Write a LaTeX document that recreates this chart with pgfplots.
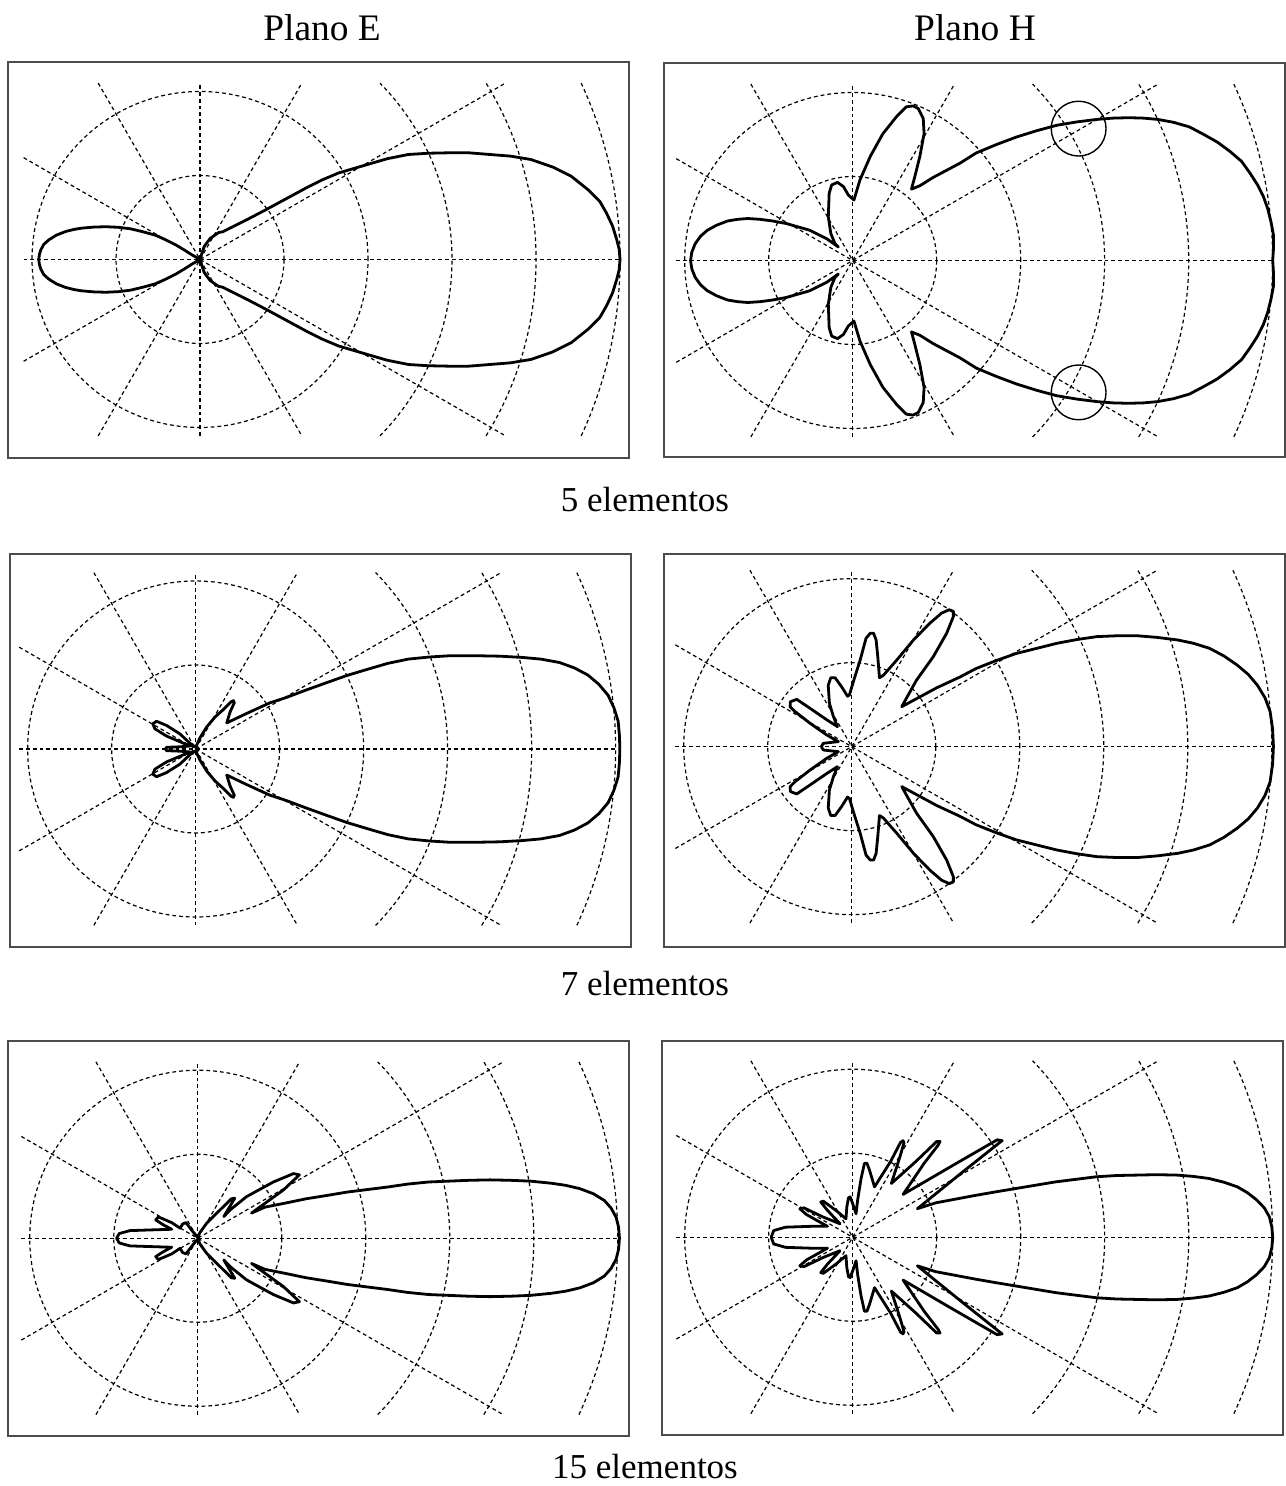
\documentclass[border=0pt]{standalone}
\usepackage{fontspec}
\setmainfont{Liberation Serif}
\usepackage{pgfplots}
\usepackage{pgfplotstable}
\pgfplotsset{compat=1.18}

% upper halves of the patterns (x y, in ring units); lower half is mirrored
\pgfplotstableread{
x y
5.00 0.00
4.99 0.12
4.96 0.24
4.91 0.40
4.84 0.55
4.76 0.69
4.62 0.83
4.42 0.99
4.20 1.10
3.94 1.19
3.70 1.23
3.45 1.25
3.20 1.27
2.96 1.27
2.72 1.265
2.48 1.25
2.23 1.20
1.99 1.13
1.82 1.08
1.65 1.03
1.46 0.95
1.26 0.85
1.02 0.72
0.78 0.59
0.56 0.475
0.34 0.365
0.27 0.33
0.22 0.32
0.12 0.25
0.05 0.155
0.01 0.036
0.00 0.00
-0.097 0.056
-0.19 0.115
-0.29 0.175
-0.41 0.235
-0.534 0.29
-0.68 0.33
-0.826 0.365
-0.97 0.383
-1.12 0.39
-1.26 0.386
-1.41 0.373
-1.50 0.358
-1.60 0.333
-1.71 0.29
-1.80 0.234
-1.86 0.18
-1.895 0.115
-1.912 0.06
-1.92 0.00
}\patA

\pgfplotstableread{
x y
5.00 0.00
5.01 0.15
5.01 0.30
4.98 0.46
4.94 0.62
4.89 0.76
4.82 0.90
4.73 1.04
4.63 1.18
4.49 1.30
4.34 1.41
4.18 1.50
4.01 1.59
3.82 1.645
3.63 1.68
3.46 1.695
3.29 1.70
3.10 1.695
2.91 1.68
2.67 1.65
2.43 1.61
2.19 1.545
1.95 1.47
1.71 1.38
1.47 1.28
1.28 1.16
1.12 1.075
0.96 0.99
0.80 0.89
0.70 0.85
0.74 1.00
0.80 1.24
0.85 1.51
0.84 1.69
0.78 1.81
0.72 1.84
0.64 1.83
0.52 1.71
0.36 1.51
0.21 1.24
0.087 0.96
0.015 0.72
-0.052 0.78
-0.11 0.88
-0.18 0.93
-0.25 0.90
-0.28 0.80
-0.29 0.52
-0.26 0.32
-0.21 0.20
-0.17 0.16
-0.31 0.26
-0.41 0.31
-0.51 0.36
-0.65 0.40
-0.79 0.44
-0.95 0.47
-1.10 0.49
-1.25 0.50
-1.37 0.49
-1.49 0.47
-1.62 0.42
-1.73 0.36
-1.81 0.29
-1.875 0.20
-1.915 0.10
-1.93 0.00
}\patB

\pgfplotstableread{
x y
5.05 0.00
5.045 0.16
5.03 0.33
4.98 0.49
4.91 0.64
4.80 0.77
4.67 0.88
4.51 0.965
4.33 1.03
4.11 1.07
3.89 1.09
3.62 1.105
3.36 1.11
3.02 1.11
2.78 1.095
2.53 1.07
2.29 1.02
2.05 0.95
1.80 0.875
1.56 0.79
1.31 0.70
1.07 0.61
0.885 0.55
0.60 0.42
0.37 0.31
0.41 0.44
0.46 0.55
0.45 0.575
0.42 0.56
0.33 0.47
0.23 0.38
0.13 0.26
0.05 0.13
0.00 0.02
-0.07 0.07
-0.187 0.18
-0.345 0.28
-0.465 0.33
-0.51 0.30
-0.485 0.24
-0.345 0.153
-0.187 0.087
-0.068 0.035
-0.187 0.026
-0.345 0.02
-0.36 0.00
}\patC

\pgfplotstableread{
x y
5.02 0.00
5.01 0.21
4.98 0.42
4.92 0.58
4.83 0.73
4.72 0.86
4.59 0.97
4.43 1.08
4.26 1.17
4.07 1.23
3.88 1.27
3.64 1.30
3.40 1.32
3.16 1.32
2.92 1.31
2.68 1.275
2.44 1.23
2.20 1.17
1.96 1.11
1.72 1.025
1.48 0.93
1.29 0.83
1.01 0.70
0.89 0.635
0.595 0.476
0.77 0.79
0.97 1.07
1.13 1.35
1.21 1.55
1.21 1.61
1.16 1.63
1.07 1.59
0.93 1.47
0.735 1.27
0.535 1.03
0.377 0.85
0.33 0.82
0.31 1.07
0.29 1.27
0.26 1.35
0.22 1.35
0.17 1.29
0.10 1.03
0.027 0.80
-0.028 0.615
-0.05 0.60
-0.119 0.71
-0.198 0.82
-0.25 0.82
-0.28 0.73
-0.266 0.516
-0.218 0.357
-0.17 0.238
-0.298 0.32
-0.496 0.456
-0.655 0.563
-0.73 0.535
-0.734 0.476
-0.675 0.417
-0.496 0.278
-0.298 0.139
-0.159 0.06
-0.337 0.04
-0.357 0.012
-0.357 0.00
}\patD

\pgfplotstableread{
x y
5.02 0.00
5.01 0.13
4.98 0.25
4.92 0.36
4.84 0.45
4.71 0.53
4.55 0.59
4.38 0.63
4.21 0.655
3.96 0.68
3.72 0.69
3.48 0.695
3.23 0.69
2.99 0.68
2.75 0.67
2.50 0.645
2.26 0.61
2.02 0.58
1.78 0.55
1.54 0.51
1.29 0.47
1.05 0.42
0.80 0.37
0.64 0.30
1.02 0.575
1.21 0.755
1.14 0.77
0.90 0.67
0.58 0.495
0.385 0.337
0.31 0.258
0.44 0.476
0.40 0.47
0.245 0.317
0.107 0.18
0.027 0.07
0.00 0.01
-0.06 0.08
-0.14 0.186
-0.18 0.17
-0.21 0.12
-0.31 0.186
-0.47 0.254
-0.50 0.218
-0.41 0.16
-0.31 0.107
-0.565 0.099
-0.807 0.091
-0.935 0.056
-0.966 0.00
}\patE

\pgfplotstableread{
x y
5.00 0.00
4.99 0.12
4.96 0.245
4.90 0.35
4.81 0.444
4.70 0.53
4.58 0.60
4.42 0.655
4.24 0.70
4.05 0.725
3.86 0.74
3.62 0.745
3.38 0.74
3.14 0.735
2.90 0.72
2.66 0.69
2.42 0.66
2.18 0.62
1.94 0.58
1.70 0.54
1.47 0.50
1.23 0.455
0.99 0.41
0.77 0.34
1.30 0.77
1.74 1.12
1.78 1.15
1.72 1.16
1.20 0.86
0.60 0.51
0.85 0.88
1.02 1.10
1.04 1.14
1.00 1.14
0.75 0.90
0.46 0.64
0.56 0.95
0.61 1.12
0.60 1.15
0.57 1.13
0.45 0.90
0.26 0.60
0.20 0.80
0.17 0.88
0.14 0.88
0.10 0.70
0.06 0.45
0.04 0.28
0.00 0.40
-0.03 0.48
-0.05 0.47
-0.07 0.36
-0.08 0.22
-0.20 0.32
-0.35 0.43
-0.38 0.42
-0.30 0.32
-0.15 0.16
-0.35 0.24
-0.58 0.35
-0.63 0.34
-0.55 0.27
-0.30 0.13
-0.50 0.13
-0.80 0.12
-0.94 0.08
-0.97 0.00
}\patF

\tikzset{grd/.style={black, line width=0.6pt, dash pattern=on 1.9pt off 1.5pt}}
\pgfplotsset{
  panel/.style={
    x=42pt, y=42pt,
    anchor=south west,
    ticks=none,
    axis line style={draw=black!70, line width=0.9pt},
  },
  patt/.style={black, line width=1.4pt, line join=round, line cap=round, no marks},
}

\newcommand{\polargrid}{
  \draw[grd] (axis cs:0,0) circle[radius=42pt];
  \draw[grd] (axis cs:0,0) circle[radius=84pt];
  \draw[grd] (axis cs:2.142,-2.1) arc[start angle=-44.43, end angle=44.43, radius=126pt];
  \draw[grd] (axis cs:3.405,-2.1) arc[start angle=-31.67, end angle=31.67, radius=168pt];
  \draw[grd] (axis cs:4.538,-2.1) arc[start angle=-24.83, end angle=24.83, radius=210pt];
  \draw[grd] (axis cs:-2.1,0) -- (axis cs:5,0);
  \draw[grd] (axis cs:0,-2.1) -- (axis cs:0,2.1);
  \draw[grd] (axis cs:-2.1,-1.212) -- (axis cs:3.637,2.1);
  \draw[grd] (axis cs:-2.1,1.212) -- (axis cs:3.637,-2.1);
  \draw[grd] (axis cs:-1.212,-2.1) -- (axis cs:1.212,2.1);
  \draw[grd] (axis cs:-1.212,2.1) -- (axis cs:1.212,-2.1);
}

\newcommand{\lobes}[1]{
  \addplot[patt] table[x=x, y=y] {#1};
  \addplot[patt] table[x=x, y expr=-\thisrow{y}] {#1};
}

\begin{document}
\begin{tikzpicture}
\useasboundingbox (0,0) rectangle (642.5pt,743pt);

% 5 elementos
\begin{axis}[panel, at={(4pt,514pt)}, xmin=-2.286, xmax=5.107, ymin=-2.363, ymax=2.351]
  \polargrid
  \lobes{\patA}
\end{axis}
\begin{axis}[panel, at={(332pt,514.5pt)}, xmin=-2.246, xmax=5.147, ymin=-2.339, ymax=2.351]
  \polargrid
  \lobes{\patB}
  \addplot[only marks, mark=o, mark size=13.7pt, mark options={black, line width=0.7pt}]
    coordinates {(2.69,1.57) (2.69,-1.57)};
\end{axis}

% 7 elementos
\begin{axis}[panel, at={(5pt,269.5pt)}, xmin=-2.21, xmax=5.18, ymin=-2.357, ymax=2.321]
  \polargrid
  \lobes{\patC}
\end{axis}
\begin{axis}[panel, at={(332pt,269.5pt)}, xmin=-2.235, xmax=5.158, ymin=-2.385, ymax=2.294]
  \polargrid
  \lobes{\patD}
\end{axis}

% 15 elementos
\begin{axis}[panel, at={(4pt,25pt)}, xmin=-2.259, xmax=5.134, ymin=-2.354, ymax=2.349]
  \polargrid
  \lobes{\patE}
\end{axis}
\begin{axis}[panel, at={(331pt,25.5pt)}, xmin=-2.27, xmax=5.12, ymin=-2.354, ymax=2.337]
  \polargrid
  \lobes{\patF}
\end{axis}

\begin{scope}[every node/.style={font=\fontsize{17.5}{21}\selectfont, inner sep=0pt}]
  \node[font=\fontsize{18.7}{22}\selectfont] at (161pt,729pt) {Plano E};
  \node[font=\fontsize{18.7}{22}\selectfont] at (487.5pt,729pt) {Plano H};
  \node at (322.5pt,493pt) {5 elementos};
  \node at (322.5pt,251pt) {7 elementos};
  \node at (322.5pt,9.5pt) {15 elementos};
\end{scope}
\end{tikzpicture}
\end{document}
